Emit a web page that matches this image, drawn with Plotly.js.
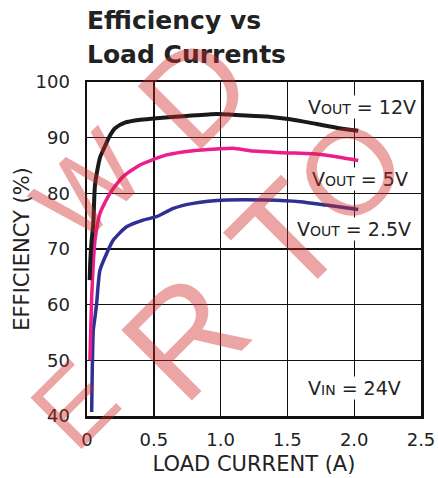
<!DOCTYPE html>
<html>
<head>
<meta charset="utf-8">
<script src="https://cdn.plot.ly/plotly-3.0.1.min.js"></script>
<style>html,body{margin:0;padding:0;background:#fff;}#chart{width:438px;height:478px;}</style>
</head>
<body>
<div id="chart"></div>
<script>
// Load current (A) and efficiency (%)
const currentV12 = [0.02, 0.025, 0.035, 0.047, 0.06, 0.097, 0.135, 0.17, 0.21, 0.284, 0.4, 0.52, 0.745, 0.97, 1.095, 1.345, 1.52, 1.72, 1.89, 2.03];
const effV12     = [64.4, 68.0, 71.6, 74.5, 81.5, 86.4, 88.5, 90.3, 91.7, 92.7, 93.2, 93.5, 93.9, 94.25, 94.1, 93.8, 93.3, 92.45, 91.7, 91.25];

const currentV5 = [0.022, 0.035, 0.047, 0.06, 0.097, 0.172, 0.27, 0.397, 0.596, 0.795, 0.97, 1.095, 1.22, 1.47, 1.69, 1.89, 2.03];
const effV5     = [50.0, 61.4, 67.4, 71.6, 76.4, 80.0, 83.0, 85.1, 86.9, 87.65, 87.96, 88.1, 87.65, 87.3, 87.1, 86.5, 85.9];

const currentV25 = [0.035, 0.047, 0.06, 0.072, 0.097, 0.147, 0.197, 0.296, 0.42, 0.52, 0.646, 0.795, 1.045, 1.345, 1.595, 1.79, 2.03];
const effV25     = [40.7, 55.4, 57.8, 60.2, 66.2, 69.2, 71.6, 74.0, 75.2, 75.8, 77.3, 78.2, 78.8, 78.8, 78.5, 77.9, 77.1];

const xTickVals = [0, 0.5, 1.0, 1.5, 2.0, 2.5];
const xTickText = ["0", "0.5", "1.0", "1.5", "2.0", "2.5"];
const yTickVals = [40, 50, 60, 70, 80, 90, 100];

const sc = (s) => "<span style='font-size:14px'>" + s + "</span>";
const seriesLabels = ["V" + sc("OUT") + " = 12V", "V" + sc("OUT") + " = 5V", "V" + sc("OUT") + " = 2.5V", "V" + sc("IN") + " = 24V"];

const traces = [
  {x: currentV25, y: effV25, mode: 'lines', line: {color: '#2e3192', width: 3.5, shape: 'spline', smoothing: 0.6}, hoverinfo: 'skip'},
  {x: currentV5, y: effV5, mode: 'lines', line: {color: '#ec1e8c', width: 3.5, shape: 'spline', smoothing: 0.6}, hoverinfo: 'skip'},
  {x: currentV12, y: effV12, mode: 'lines', line: {color: '#1a1a1a', width: 4, shape: 'spline', smoothing: 0.6}, hoverinfo: 'skip'}
];

// plot area in pixels (for placing decorations)
const PL = 87, PR = 421, PT = 82, PB = 416;
const px2x = (p) => (p - PL) / (PR - PL);
const px2y = (p) => (PB - p) / (PB - PT);

const DV = 'DejaVu Sans, Verdana, sans-serif';
const lblFont = {family: DV, size: 19, color: '#222'};
const wmColor = 'rgba(210,40,40,0.42)';

// watermark letters (decoration): letter, pixel centre, size
const wmLetters = [
  ['W', 88, 186, 108], ['D', 195, 92, 130],
  ['E', 74, 404, 105], ['R', 185, 337, 145], ['T', 287, 239, 145], ['O', 350, 172, 122]
];

const annotations = [
  {text: '<b>Efficiency vs</b>', xref: 'paper', yref: 'paper', x: px2x(85), y: px2y(21), xanchor: 'left', yanchor: 'middle', showarrow: false, font: {family: DV, size: 25, color: '#222'}},
  {text: '<b>Load Currents</b>', xref: 'paper', yref: 'paper', x: px2x(85), y: px2y(54), xanchor: 'left', yanchor: 'middle', showarrow: false, font: {family: DV, size: 25, color: '#222'}},
  {text: seriesLabels[0], xref: 'paper', yref: 'paper', x: px2x(417), y: px2y(107.5), xanchor: 'right', yanchor: 'middle', showarrow: false, bgcolor: '#fff', borderpad: 0, font: lblFont},
  {text: seriesLabels[1], xref: 'paper', yref: 'paper', x: px2x(409), y: px2y(178.5), xanchor: 'right', yanchor: 'middle', showarrow: false, bgcolor: '#fff', borderpad: 0, font: lblFont},
  {text: seriesLabels[2], xref: 'paper', yref: 'paper', x: px2x(412), y: px2y(228.5), xanchor: 'right', yanchor: 'middle', showarrow: false, bgcolor: '#fff', borderpad: 0, font: lblFont},
  {text: seriesLabels[3], xref: 'paper', yref: 'paper', x: px2x(402), y: px2y(387.5), xanchor: 'right', yanchor: 'middle', showarrow: false, bgcolor: '#fff', borderpad: 0, font: lblFont}
];
wmLetters.forEach(([ch, x, y, s]) => annotations.push({
  text: ch, xref: 'paper', yref: 'paper', x: px2x(x), y: px2y(y), xanchor: 'center', yanchor: 'middle',
  textangle: -45, showarrow: false, font: {family: 'Liberation Sans, Arial, sans-serif', size: s, color: wmColor}
}));

const layout = {
  width: 438, height: 478,
  margin: {l: PL, r: 438 - PR, t: PT, b: 478 - PB},
  paper_bgcolor: '#fff', plot_bgcolor: '#fff',
  showlegend: false,
  font: {family: DV, color: '#222'},
  xaxis: {
    range: [0, 2.5], tickvals: xTickVals, ticktext: xTickText,
    showgrid: true, gridcolor: '#111', gridwidth: 1.4,
    showline: true, linecolor: '#111', linewidth: 2.5, mirror: true,
    zeroline: false, ticks: '', ticklabelstandoff: 6,
    tickfont: {family: DV, size: 18, color: '#222'},
    title: {text: 'LOAD CURRENT (A)', font: {family: DV, size: 21, color: '#222'}, standoff: 7}
  },
  yaxis: {
    range: [40, 100], tickvals: yTickVals,
    showgrid: true, gridcolor: '#111', gridwidth: 1.4,
    showline: true, linecolor: '#111', linewidth: 2.5, mirror: true,
    zeroline: false, ticks: '', ticklabelstandoff: 11,
    tickfont: {family: DV, size: 18, color: '#222'},
    title: {text: 'EFFICIENCY (%)', font: {family: DV, size: 21, color: '#222'}, standoff: 0}
  },
  annotations: annotations
};

Plotly.newPlot('chart', traces, layout, {staticPlot: true, displayModeBar: false});
</script>
</body>
</html>
